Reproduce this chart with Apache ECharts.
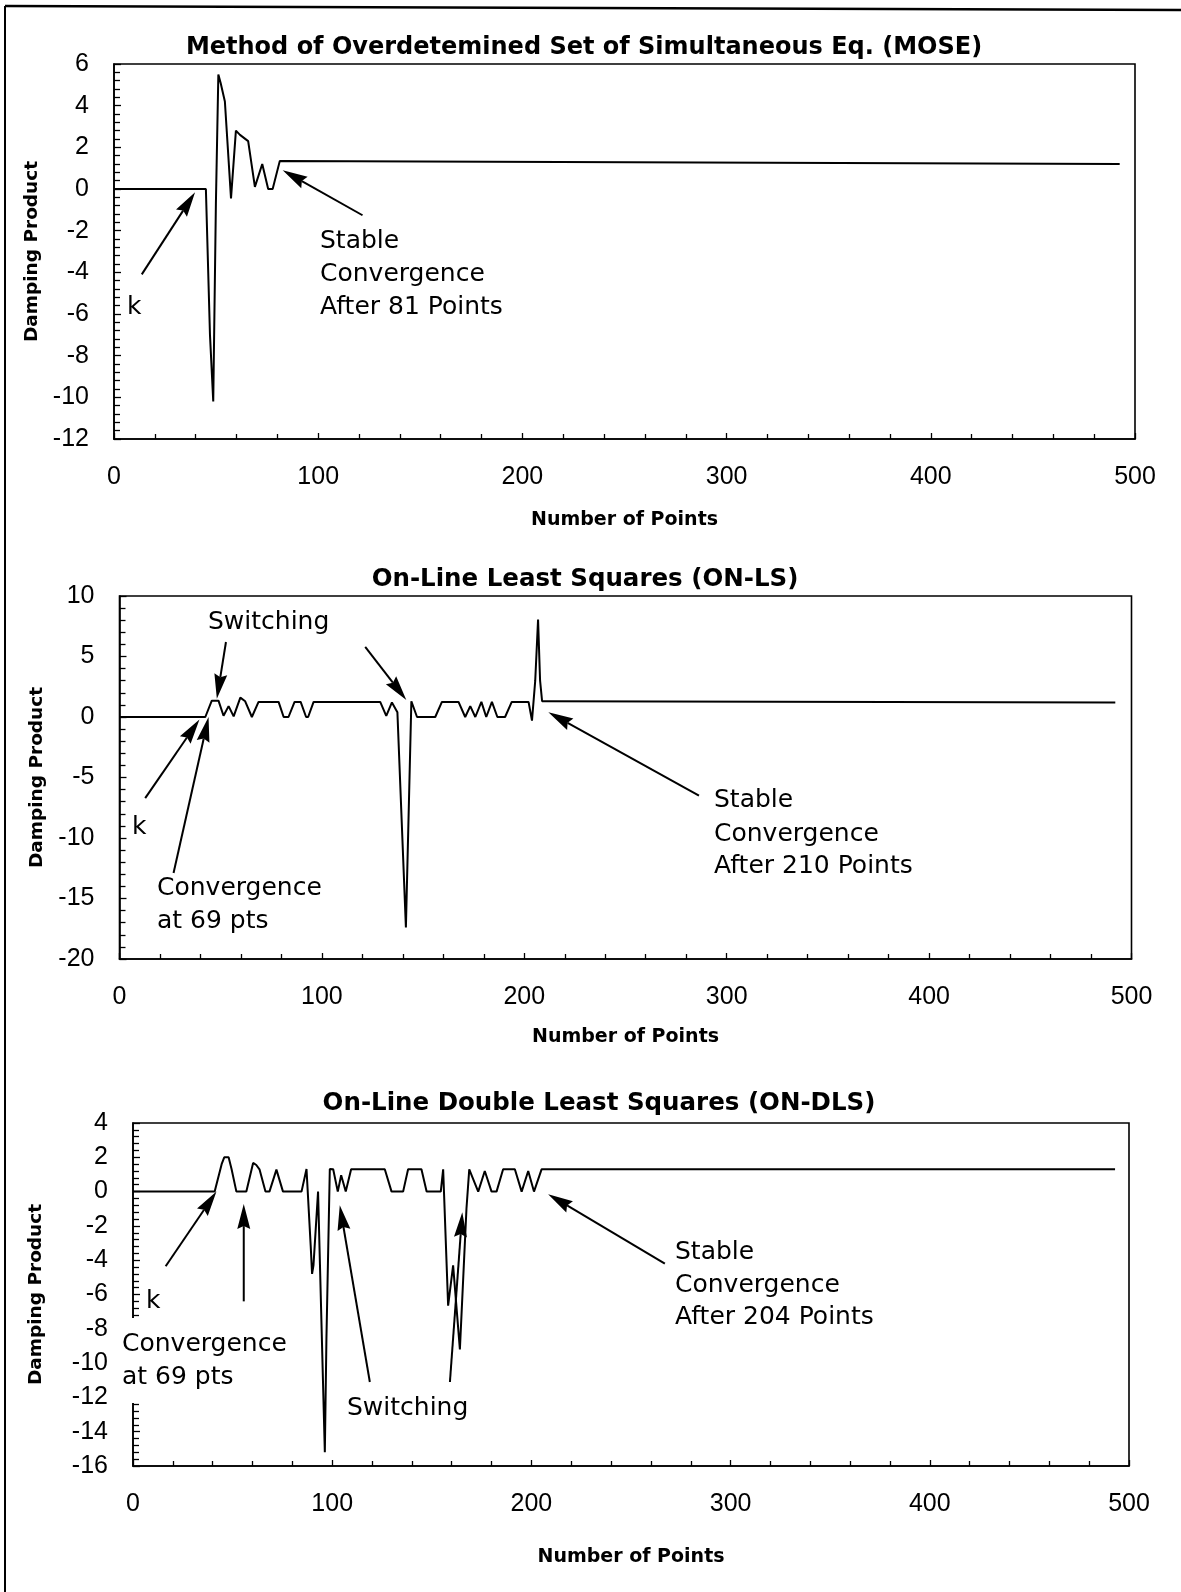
<!DOCTYPE html>
<html>
<head>
<meta charset="utf-8">
<script src="https://cdn.jsdelivr.net/npm/echarts/dist/echarts.min.js"></script>
<style>
  html, body { margin: 0; padding: 0; background: #fff; }
  #chart { width: 1181px; height: 1592px; }
</style>
</head>
<body>
<div id="chart"></div>
<script>
// ---- data: damping product versus number of points ----
const xTicks = [0, 100, 200, 300, 400, 500];

// Method of Overdetermined Set of Simultaneous Equations
const moseX = [0, 45, 47, 48.6, 49.9, 51.1, 52.2, 54.3, 57.3, 59.7, 61.7, 65.7, 69, 72.6, 75.5, 77.7, 81.2, 492.5];
const moseY = [0, 0, -7, -10.2, -0.7, 5.5, 5.1, 4.2, -0.45, 2.8, 2.6, 2.3, 0.1, 1.2, 0, 0, 1.35, 1.2];

// On-Line Least Squares
const onlsX = [0, 42.4, 45.6, 48.9, 51.4, 53.9, 56.4, 59.7, 62.1, 65.4, 68.7, 78.6, 81.1, 83.5, 86.5, 89.5,
  92.2, 93.2, 95.9, 128.8, 131.8, 134.6, 137.3, 141.5, 144.2, 147, 156, 159.3, 167.5, 170.8, 173.3, 175.8,
  178.8, 181.2, 184, 186.7, 190.5, 193.8, 202.1, 203.8, 205.4, 206.8, 207.8, 208.8, 211, 492];
const onlsY = [0, 0, 1.35, 1.35, 0.1, 0.9, 0.05, 1.6, 1.3, 0, 1.25, 1.25, 0, 0, 1.25, 1.25,
  0, 0, 1.25, 1.25, 0.1, 1.2, 0.4, -17.4, 1.3, 0, 0, 1.25, 1.25, 0, 0.9, 0,
  1.25, 0, 1.25, 0, 0, 1.25, 1.25, -0.3, 3, 8.05, 3, 1.3, 1.3, 1.2];

// On-Line Double Least Squares
const ondlsX = [0, 41, 44.5, 45.8, 48, 49.5, 51.9, 56.9, 60.3, 61.9, 63.5, 66.5, 68.5, 72, 75.3, 84.6, 86.5,
  87.1, 89.2, 89.9, 90.6, 92.9, 96.3, 97.1, 98.8, 100.5, 102.8, 104.5, 106.8, 109.5, 126.4, 129.8, 135.6,
  138.1, 144.8, 147.4, 154.5, 155.7, 158.2, 160.7, 164.1, 167.4, 168.8, 173.3, 176.6, 180, 182.5, 185.8,
  191.7, 195.1, 198.4, 201.3, 205.1, 493];
const ondlsY = [0, 0, 1.6, 2.0, 2.0, 1.3, 0, 0, 1.67, 1.55, 1.3, 0, 0, 1.28, 0, 0, 1.0,
  1.32, -3.15, -4.8, -4.3, 0, -15.2, -8.6, 1.32, 1.3, 0, 0.95, 0, 1.3, 1.3, 0, 0,
  1.3, 1.3, 0, 0, 1.3, -6.65, -4.3, -9.2, -1.0, 1.3, 0, 1.2, 0, 0, 1.3,
  1.3, 0, 1.2, 0, 1.3, 1.3];

const titles = [
  'Method of Overdetemined Set of Simultaneous Eq. (MOSE)',
  'On-Line Least Squares (ON-LS)',
  'On-Line Double Least Squares (ON-DLS)'
];
const yRanges = [[-12, 6, 2], [-20, 10, 5], [-16, 4, 2]];

// ---- layout ----
const grids = [
  { left: 114, top: 64, width: 1021, height: 375 },
  { left: 119.5, top: 596, width: 1012, height: 363 },
  { left: 133, top: 1123, width: 996, height: 343 }
];
const xNameGap = [72, 69, 82];
const yNameGap = [71, 73, 87];
const titlePos = [[584, 48], [585, 580], [599, 1104]];
const titleSize = [24, 24.5, 24.5];

const TICK_FONT = 'Liberation Sans';
const TEXT_FONT = 'DejaVu Sans';

const zip = (xs, ys) => xs.map((x, i) => [x, ys[i]]);
const seriesData = [zip(moseX, moseY), zip(onlsX, onlsY), zip(ondlsX, ondlsY)];

const chart = echarts.init(document.getElementById('chart'), null, { renderer: 'canvas' });

const option = {
  animation: false,
  backgroundColor: '#fff',
  grid: grids.map(g => Object.assign({ show: true, borderColor: '#000', borderWidth: 1.6, containLabel: false }, g)),
  xAxis: grids.map((g, i) => ({
    type: 'value', gridIndex: i,
    min: xTicks[0], max: xTicks[xTicks.length - 1], interval: xTicks[1] - xTicks[0],
    name: 'Number of Points', nameLocation: 'middle', nameGap: xNameGap[i],
    nameTextStyle: { fontFamily: TEXT_FONT, fontWeight: 'bold', fontSize: 19, color: '#000' },
    axisLine: { show: true, onZero: false, lineStyle: { color: '#000', width: 1.6 } },
    axisTick: { show: true, inside: true, length: 6, lineStyle: { color: '#000', width: 1.3 } },
    minorTick: { show: true, splitNumber: 5, length: 5, lineStyle: { color: '#000', width: 1.3 } },
    splitLine: { show: false },
    axisLabel: { margin: 26, fontFamily: TICK_FONT, fontSize: 25, color: '#000', showMinLabel: true, showMaxLabel: true }
  })),
  yAxis: grids.map((g, i) => ({
    type: 'value', gridIndex: i,
    min: yRanges[i][0], max: yRanges[i][1], interval: yRanges[i][2],
    name: 'Damping Product', nameLocation: 'middle', nameRotate: 90, nameGap: yNameGap[i],
    nameTextStyle: { fontFamily: TEXT_FONT, fontWeight: 'bold', fontSize: 18.5, color: '#000' },
    axisLine: { show: true, onZero: false, lineStyle: { color: '#000', width: 1.6 } },
    axisTick: { show: true, inside: true, length: 7, lineStyle: { color: '#000', width: 1.3 } },
    minorTick: { show: true, splitNumber: 5, length: 6, lineStyle: { color: '#000', width: 1.3 } },
    splitLine: { show: false },
    axisLabel: { margin: 25, fontFamily: TICK_FONT, fontSize: 25, color: '#000', showMinLabel: true, showMaxLabel: true }
  })),
  series: seriesData.map((d, i) => ({
    type: 'line', xAxisIndex: i, yAxisIndex: i,
    data: d, showSymbol: false, symbol: 'none', silent: true,
    lineStyle: { color: '#000', width: 2 }
  }))
};
chart.setOption(option);

// ---- annotations ----
const arrows = [
  // grid, from, to (data coordinates)
  [0, [13.6, -4.1], [39.7, -0.15]],
  [0, [121.7, -1.26], [82.6, 0.9]],
  [1, [52.6, 6.2], [48.1, 1.5]],
  [1, [121.4, 5.8], [141.7, 1.4]],
  [1, [12.7, -6.7], [39.5, -0.2]],
  [1, [26.7, -12.9], [44, 0]],
  [1, [286.3, -6.5], [211.9, 0.4]],
  [2, [16.4, -4.35], [41.9, 0]],
  [2, [55.6, -6.4], [55.6, -0.73]],
  [2, [118.9, -11.1], [103.8, -0.8]],
  [2, [159.1, -11.1], [165.3, -1.2]],
  [2, [267, -4.2], [208.4, -0.15]]
];

function arrowShapes(gridIndex, from, to) {
  const p0 = chart.convertToPixel({ gridIndex: gridIndex }, from);
  const p1 = chart.convertToPixel({ gridIndex: gridIndex }, to);
  const dx = p1[0] - p0[0], dy = p1[1] - p0[1];
  const len = Math.hypot(dx, dy);
  const ux = dx / len, uy = dy / len;
  const headLen = 25, headHalf = 6.5;
  const bx = p1[0] - ux * headLen, by = p1[1] - uy * headLen;
  const nx = -uy, ny = ux;
  return [
    { type: 'line', z: 50, silent: true,
      shape: { x1: p0[0], y1: p0[1], x2: bx + ux * 3, y2: by + uy * 3 },
      style: { stroke: '#000', lineWidth: 2 } },
    { type: 'polygon', z: 50, silent: true,
      shape: { points: [[p1[0], p1[1]], [bx + nx * headHalf, by + ny * headHalf],
        [bx + ux * 3, by + uy * 3], [bx - nx * headHalf, by - ny * headHalf]] },
      style: { fill: '#000' } }
  ];
}

function label(x, y, text) {
  return {
    type: 'text', x: x, y: y, z: 60, silent: true,
    style: { text: text, font: '25px "' + TEXT_FONT + '"', fill: '#000',
      textAlign: 'left', textVerticalAlign: 'middle', align: 'left', verticalAlign: 'middle' }
  };
}

const graphics = [];
// page frame
graphics.push({ type: 'line', z: 40, silent: true, shape: { x1: 5, y1: 6, x2: 1181, y2: 10 }, style: { stroke: '#000', lineWidth: 2.5 } });
graphics.push({ type: 'line', z: 40, silent: true, shape: { x1: 5, y1: 6, x2: 5, y2: 1592 }, style: { stroke: '#000', lineWidth: 2 } });

// titles
titles.forEach((t, i) => {
  graphics.push({
    type: 'text', x: titlePos[i][0], y: titlePos[i][1], z: 60, silent: true,
    style: { text: t, font: 'bold ' + titleSize[i] + 'px "' + TEXT_FONT + '"', fill: '#000',
      textAlign: 'center', textVerticalAlign: 'middle', align: 'center', verticalAlign: 'middle' }
  });
});

// white box under the lower-left caption
graphics.push({ type: 'rect', z: 55, silent: true, shape: { x: 120, y: 1318, width: 180, height: 85 }, style: { fill: '#fff' } });

// captions
[
  [127, 307, 'k'],
  [320, 241, 'Stable'], [320, 274, 'Convergence'], [320, 307, 'After 81 Points'],
  [208, 622, 'Switching'],
  [132, 827, 'k'],
  [157, 888, 'Convergence'], [157, 921, 'at 69 pts'],
  [714, 800, 'Stable'], [714, 834, 'Convergence'], [714, 866, 'After 210 Points'],
  [146, 1301, 'k'],
  [122, 1344, 'Convergence'], [122, 1377, 'at 69 pts'],
  [347, 1408, 'Switching'],
  [675, 1252, 'Stable'], [675, 1285, 'Convergence'], [675, 1317, 'After 204 Points']
].forEach(c => graphics.push(label(c[0], c[1], c[2])));

arrows.forEach(a => arrowShapes(a[0], a[1], a[2]).forEach(s => graphics.push(s)));

chart.setOption({ graphic: graphics });
</script>
</body>
</html>
